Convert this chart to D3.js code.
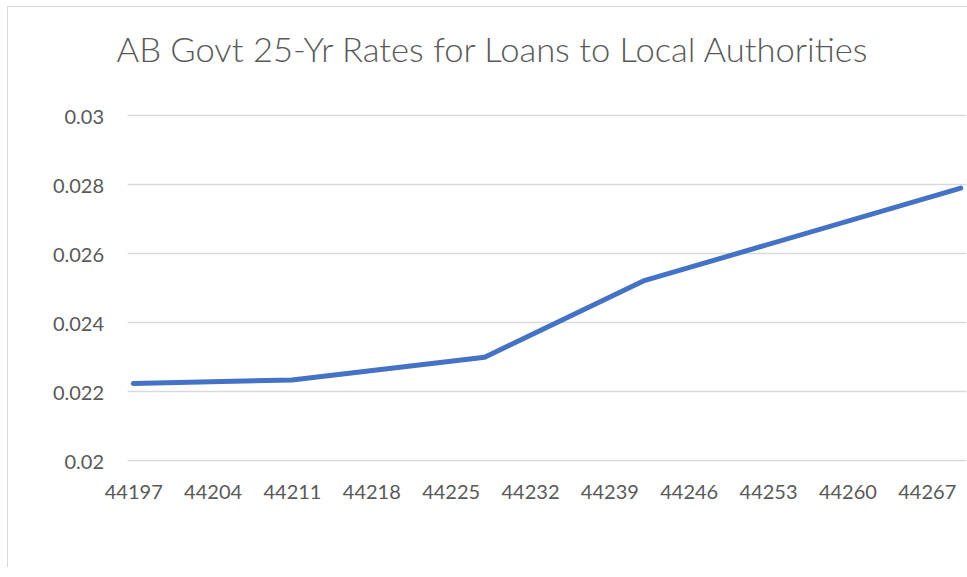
<!DOCTYPE html>
<html>
<head>
<meta charset="utf-8">
<script src="https://cdn.jsdelivr.net/npm/d3@7"></script>
<style>
  body { margin: 0; background: #fff; }
  .canvas svg { display: block; }
</style>
</head>
<body>
<div class="canvas"></div>
<script>
var title = "AB Govt 25-Yr Rates for Loans to Local Authorities";
var dates = [44197, 44211, 44228, 44242, 44270];
var rates = [0.02222, 0.02232, 0.02298, 0.02519, 0.02788];
var xTicks = [44197, 44204, 44211, 44218, 44225, 44232, 44239, 44246, 44253, 44260, 44267];
var yTicks = [0.02, 0.022, 0.024, 0.026, 0.028, 0.03];

(function linechart() {
  var width = 967, height = 577;
  var plot = { left: 127.6, right: 966.4, top: 115, bottom: 460 };

  var svg = d3.select(".canvas")
    .append("svg")
    .attr("width", width)
    .attr("height", height);

  // chart frame (right and bottom edges are cropped off in the picture)
  svg.append("path")
    .attr("d", "M7.5,567 V6.5 H967")
    .attr("fill", "none")
    .attr("stroke", "#d9d9d9")
    .attr("stroke-width", 1);

  var x = d3.scaleLinear().domain([44196.5, 44270.5]).range([plot.left, plot.right]);
  var y = d3.scaleLinear().domain([0.02, 0.03]).range([plot.bottom, plot.top]);

  // gridlines
  svg.append("g")
    .attr("transform", "translate(" + plot.left + ",0)")
    .call(d3.axisLeft(y).tickValues(yTicks).tickSize(-(plot.right - plot.left)).tickFormat(""))
    .call(function(g){ g.select(".domain").remove(); })
    .selectAll("line")
    .attr("stroke", "#d9d9d9")
    .attr("stroke-width", 1.3);

  // y labels
  var ya = svg.append("g")
    .attr("transform", "translate(104,0)")
    .call(d3.axisLeft(y).tickValues(yTicks).tickSize(0).tickPadding(0).tickFormat(function(d){ return String(+d.toFixed(3)); }));
  ya.select(".domain").remove();
  ya.selectAll("text")
    .attr("font-family", "Lato, 'Open Sans', sans-serif")
    .attr("font-size", 20)
    .attr("fill", "#595959")
    .attr("dy", "0.4em");

  // x labels
  var xa = svg.append("g")
    .attr("transform", "translate(0," + plot.bottom + ")")
    .call(d3.axisBottom(x).tickValues(xTicks).tickSize(0).tickPadding(0).tickFormat(d3.format("d")));
  xa.select(".domain").remove();
  xa.selectAll("text")
    .attr("font-family", "Lato, 'Open Sans', sans-serif")
    .attr("font-size", 20)
    .attr("fill", "#595959")
    .attr("y", 38.5)
    .attr("dy", 0);

  // line
  var pts = dates.map(function(d, i){ return [d, rates[i]]; });
  svg.append("path")
    .datum(pts)
    .attr("fill", "none")
    .attr("stroke", "#4472c4")
    .attr("stroke-width", 5)
    .attr("stroke-linecap", "round")
    .attr("stroke-linejoin", "round")
    .attr("d", d3.line().x(function(d){ return x(d[0]); }).y(function(d){ return y(d[1]); }));

  // title
  svg.append("text")
    .attr("x", 492)
    .attr("y", 62)
    .attr("text-anchor", "middle")
    .attr("font-family", "Lato, 'Open Sans', sans-serif")
    .attr("font-weight", 300)
    .attr("font-size", 33)
    .attr("fill", "#595959")
    .attr("textLength", 751)
    .attr("lengthAdjust", "spacingAndGlyphs")
    .text(title);
})();
</script>
</body>
</html>
